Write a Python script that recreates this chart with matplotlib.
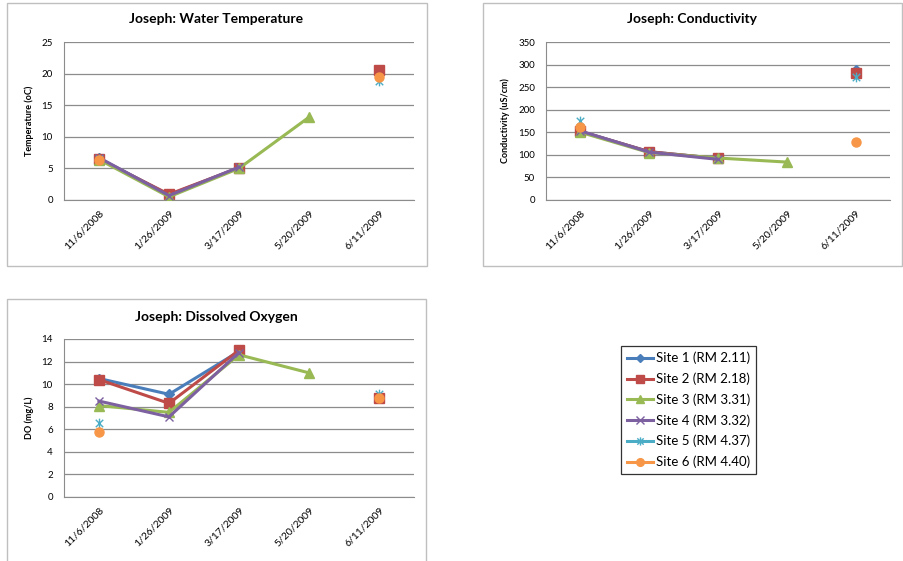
import numpy as np
import matplotlib
matplotlib.use("Agg")
import matplotlib.pyplot as plt
from matplotlib.patches import Rectangle
from matplotlib.path import Path

plt.rcParams['font.family'] = ['Lato', 'DejaVu Sans']

nan = np.nan
dates = ["11/6/2008", "1/26/2009", "3/17/2009", "5/20/2009", "6/11/2009"]
sites = ["Site 1 (RM 2.11)", "Site 2 (RM 2.18)", "Site 3 (RM 3.31)",
         "Site 4 (RM 3.32)", "Site 5 (RM 4.37)", "Site 6 (RM 4.40)"]

# water temperature (oC)
temp_s1 = [6.6, 0.8, 5.1, nan, 20.3]
temp_s2 = [6.5, 0.9, 5.1, nan, 20.5]
temp_s3 = [6.4, 0.5, 5.0, 13.1, nan]
temp_s4 = [6.7, 0.7, 5.2, nan, nan]
temp_s5 = [6.5, nan, nan, nan, 18.8]
temp_s6 = [6.4, nan, nan, nan, 19.4]

# conductivity (uS/cm)
cond_s1 = [152, 107, 92, nan, 288]
cond_s2 = [152, 107, 92, nan, 281]
cond_s3 = [150, 105, 93, 84, nan]
cond_s4 = [153, 106, 90, nan, nan]
cond_s5 = [175, nan, nan, nan, 272]
cond_s6 = [162, nan, nan, nan, 129]

# dissolved oxygen (mg/L)
do_s1 = [10.5, 9.1, 12.9, nan, 8.8]
do_s2 = [10.4, 8.3, 13.0, nan, 8.8]
do_s3 = [8.1, 7.5, 12.6, 11.0, nan]
do_s4 = [8.5, 7.1, 12.8, nan, nan]
do_s5 = [6.6, nan, nan, nan, 9.1]
do_s6 = [5.8, nan, nan, nan, 8.8]

# excel style asterisk: an x with a vertical stroke
star = Path([(-1, -1), (1, 1), (-1, 1), (1, -1), (0, -1.3), (0, 1.3)],
            [Path.MOVETO, Path.LINETO, Path.MOVETO, Path.LINETO, Path.MOVETO, Path.LINETO])

colors = ["#4A7EBB", "#BE4B48", "#98B954", "#7D60A0", "#4BACC6", "#F79646"]
markers = ["D", "s", "^", "x", star, "o"]
msizes = [5, 6.5, 6.5, 6, 7, 6.5]

W, H = 904, 561
fig = plt.figure(figsize=(W / 100, H / 100), dpi=100)


def box(x0, y0, x1, y1, color="#BFBFBF", lw=1.0):
    fig.patches.append(Rectangle((x0 / W, 1 - y1 / H), (x1 - x0) / W, (y1 - y0) / H,
                                 transform=fig.transFigure, fill=False,
                                 edgecolor=color, linewidth=lw))


def panel(rect, series, title, title_xy, ylabel, ylabel_x, ymax, ystep):
    x0, y0, x1, y1 = rect
    ax = fig.add_axes([x0 / W, 1 - y1 / H, (x1 - x0) / W, (y1 - y0) / H])
    x = np.arange(len(dates))
    for vals, c, m, ms in zip(series, colors, markers, msizes):
        v = np.array(vals, dtype=float)
        ax.plot(x, v, color=c, lw=2.2, marker=m, markersize=ms,
                markerfacecolor=c, markeredgecolor=c, markeredgewidth=1.0, zorder=3)
    ax.set_xlim(-0.5, len(dates) - 0.5)
    ax.set_ylim(0, ymax)
    ax.set_yticks(np.arange(0, ymax + ystep / 2, ystep))
    ax.set_xticks(x)
    ax.set_xticklabels(dates, rotation=45, ha="right", rotation_mode="anchor", fontsize=7.5)
    ax.tick_params(axis="y", labelsize=7, length=0, pad=8)
    ax.tick_params(axis="x", length=0, pad=6)
    ax.yaxis.grid(True, color="#8C8C8C", lw=0.9)
    ax.set_axisbelow(True)
    for s in ["top", "right"]:
        ax.spines[s].set_visible(False)
    ax.spines["left"].set_color("#8C8C8C")
    ax.spines["bottom"].set_color("#8C8C8C")
    fig.text(title_xy[0] / W, 1 - title_xy[1] / H, title, ha="center", va="center",
             fontsize=10, fontweight="bold")
    fig.text(ylabel_x / W, 1 - (y0 + y1) / 2 / H, ylabel, rotation=90, ha="center",
             va="center", fontsize=6.5, fontweight="bold")
    return ax


# chart borders
box(7, 3, 427, 266)
box(483, 3, 902, 266)
box(7, 299, 426, 570)

panel((64, 42, 414, 200),
      [temp_s1, temp_s2, temp_s3, temp_s4, temp_s5, temp_s6],
      "Joseph: Water Temperature", (216, 19), "Temperature (oC)", 29, 25, 5)
panel((546, 42, 890, 200),
      [cond_s1, cond_s2, cond_s3, cond_s4, cond_s5, cond_s6],
      "Joseph: Conductivity", (692, 19), "Conductivity (uS/cm)", 505, 350, 50)
ax3 = panel((64, 339, 414, 497),
            [do_s1, do_s2, do_s3, do_s4, do_s5, do_s6],
            "Joseph: Dissolved Oxygen", (216, 317), "DO (mg/L)", 29, 14, 2)

handles = ax3.get_lines()
leg = fig.legend(handles, sites, loc="upper left",
                 bbox_to_anchor=(621 / W, 1 - 346 / H), fontsize=9.5,
                 frameon=True, fancybox=False, edgecolor="black",
                 handlelength=2.0, handletextpad=0.2, labelspacing=0.62,
                 borderpad=0.45, borderaxespad=0, markerscale=0.85)
leg.get_frame().set_linewidth(0.9)

fig.savefig("out.png", dpi=100)
